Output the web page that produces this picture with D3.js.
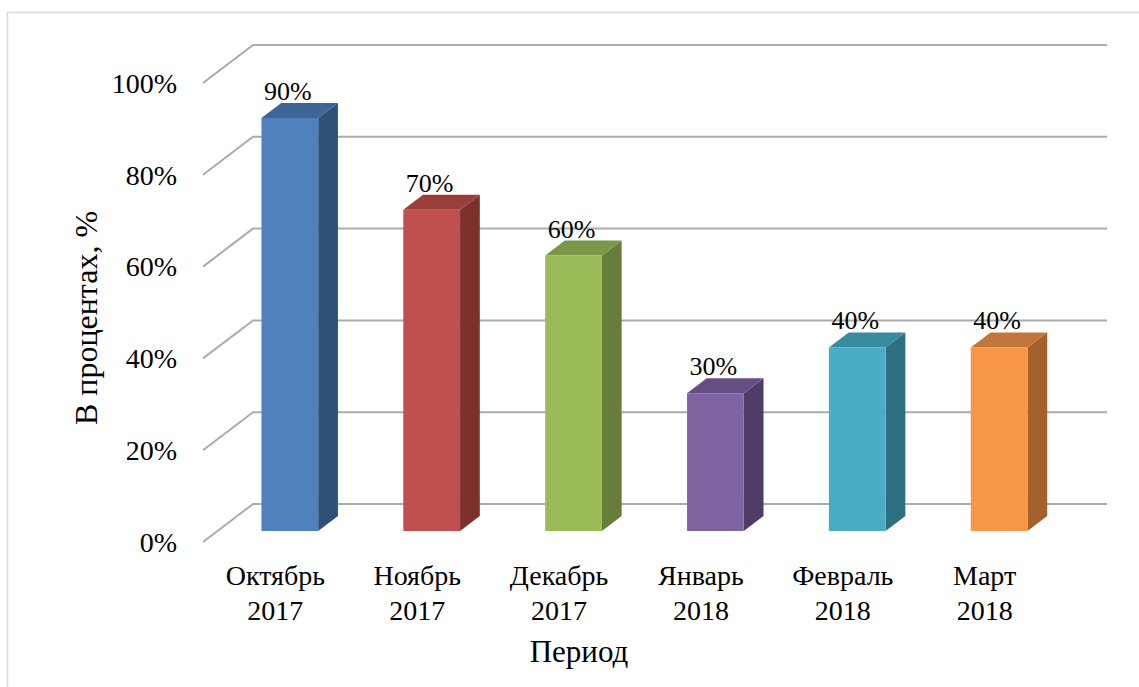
<!DOCTYPE html>
<html>
<head>
<meta charset="utf-8">
<script src="https://cdn.jsdelivr.net/npm/d3@7"></script>
<style>
  html, body { margin: 0; padding: 0; background: #fff; }
</style>
</head>
<body>
<svg id="chart" width="1139" height="687" font-family="'Liberation Serif', 'Times New Roman', Times, serif"></svg>
<script>
// Monthly shares, percent
const months = ["Октябрь", "Ноябрь", "Декабрь", "Январь", "Февраль", "Март"];
const years = ["2017", "2017", "2017", "2018", "2018", "2018"];
const values = [90, 70, 60, 30, 40, 40];
const tickValues = [0, 20, 40, 60, 80, 100];
const tickLabels = ["0%", "20%", "40%", "60%", "80%", "100%"];

// face colours per bar: front, side, top
const frontColors = ["#4F81BD", "#C0504D", "#9BBB59", "#8064A2", "#4BACC6", "#F79646"];
const sideColors  = ["#2F5077", "#7E302D", "#677E3A", "#4F3C67", "#2E7082", "#A2602B"];
const topColors   = ["#3D6696", "#9A3E3B", "#7C9748", "#654F82", "#3A8BA0", "#C2763A"];

const FONT = "'Liberation Serif', 'Times New Roman', Times, serif";
const svg = d3.select("#chart");

// outer frame
svg.append("rect")
  .attr("x", 7.5).attr("y", 12.5)
  .attr("width", 1160).attr("height", 700)
  .attr("fill", "none").attr("stroke", "#d9d9d9").attr("stroke-width", 1.5);

// oblique projection: depth runs up and to the right
const depthDX = 50, depthDY = -38;
const frontLeft = 203, frontRight = 1057;

const x = d3.scaleBand(d3.range(months.length), [frontLeft, frontRight])
  .paddingInner(0.6).paddingOuter(0.31);
const y = d3.scaleLinear([0, 100], [542, 83]);

function proj(px, py, t) { return [px + depthDX * t, py + depthDY * t]; }

// gridlines: side diagonal + back wall horizontal
const grid = svg.append("g");
tickValues.forEach(v => {
  const a = proj(frontLeft, y(v), 0);
  const b = proj(frontLeft, y(v), 1);
  const c = proj(frontRight, y(v), 1);
  grid.append("polyline")
    .attr("points", [a, b, c].map(p => p.join(",")).join(" "))
    .attr("fill", "none").attr("stroke", "#ababab").attr("stroke-width", 2);
});

function label(sel, size) {
  return sel.attr("font-family", FONT).attr("font-size", size).attr("fill", "#000");
}

// tick labels
label(svg.append("g").selectAll("text").data(tickValues).join("text"), 28)
  .attr("x", 177).attr("y", d => y(d)).attr("dy", "0.35em")
  .attr("text-anchor", "end")
  .text((d, i) => tickLabels[i]);

// bars
const d1 = 11 / 38, d2 = 26 / 38;
const bars = svg.append("g");
values.forEach((v, i) => {
  const x0 = x(i), x1 = x(i) + x.bandwidth();
  const fbl = proj(x0, y(0), d1), fbr = proj(x1, y(0), d1);
  const ftl = proj(x0, y(v), d1), ftr = proj(x1, y(v), d1);
  const bbr = proj(x1, y(0), d2), btl = proj(x0, y(v), d2), btr = proj(x1, y(v), d2);
  const pts = arr => arr.map(p => p.join(",")).join(" ");
  bars.append("polygon").attr("points", pts([fbr, bbr, btr, ftr])).attr("fill", sideColors[i]);
  bars.append("polygon").attr("points", pts([ftl, ftr, btr, btl])).attr("fill", topColors[i]);
  bars.append("polygon").attr("points", pts([fbl, fbr, ftr, ftl])).attr("fill", frontColors[i]);
  // value label
  label(svg.append("text"), 26)
    .attr("x", (ftl[0] + ftr[0]) / 2 - 2)
    .attr("y", btl[1] - 3)
    .attr("text-anchor", "middle")
    .text(v + "%");
});

// category labels
const cat = svg.append("g");
months.forEach((m, i) => {
  const cx = x(i) + x.bandwidth() / 2;
  label(cat.append("text"), 28).attr("x", cx).attr("y", 585)
    .attr("text-anchor", "middle").text(m);
  label(cat.append("text"), 28).attr("x", cx).attr("y", 620)
    .attr("text-anchor", "middle").text(years[i]);
});

// axis titles
label(svg.append("text"), 31).attr("x", 579).attr("y", 662)
  .attr("text-anchor", "middle").text("Период");
label(svg.append("text"), 32)
  .attr("transform", "translate(97,318) rotate(-90)")
  .attr("text-anchor", "middle").text("В процентах, %");
</script>
</body>
</html>
